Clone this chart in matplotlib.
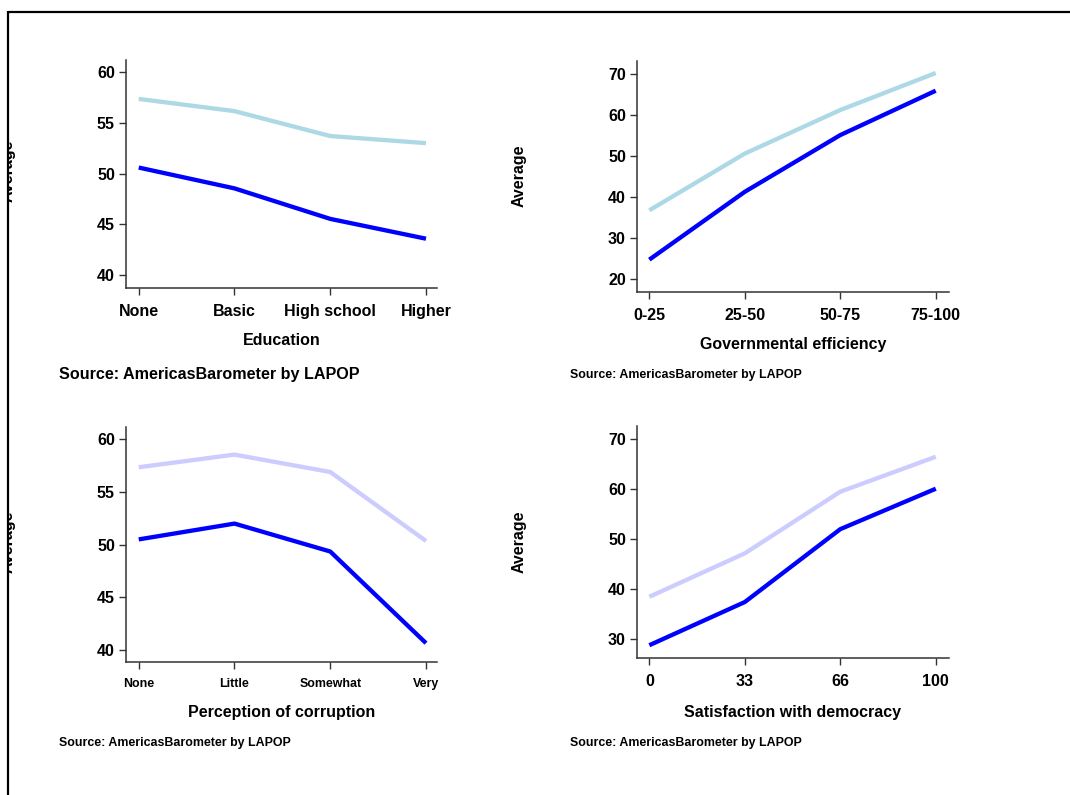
import matplotlib
matplotlib.use("Agg")
import matplotlib.pyplot as plt
from matplotlib.lines import Line2D
from matplotlib.transforms import Bbox

plt.rcParams['font.family'] = ['Liberation Sans', 'DejaVu Sans']
plt.rcParams['font.weight'] = 'bold'

# ---- data -------------------------------------------------------------
edu_labels = ["None", "Basic", "High school", "Higher"]
edu_upper = [57.35, 56.15, 53.7, 53.0]
edu_lower = [50.6, 48.55, 45.55, 43.6]

eff_labels = ["0-25", "25-50", "50-75", "75-100"]
eff_upper = [36.8, 50.6, 61.2, 70.2]
eff_lower = [24.8, 41.3, 55.1, 65.9]

corr_labels = ["None", "Little", "Somewhat", "Very"]
corr_upper = [57.35, 58.55, 56.9, 50.35]
corr_lower = [50.5, 52.0, 49.35, 40.65]

dem_labels = ["0", "33", "66", "100"]
dem_upper = [38.45, 47.15, 59.5, 66.5]
dem_lower = [28.75, 37.4, 52.0, 60.1]

edu_yticks = [40, 45, 50, 55, 60]
eff_yticks = [20, 30, 40, 50, 60, 70]
corr_yticks = [40, 45, 50, 55, 60]
dem_yticks = [30, 40, 50, 60, 70]

SOURCE = "Source: AmericasBarometer by LAPOP"

# ---- figure -----------------------------------------------------------
W, H = 1070, 795
DPI = 100
fig = plt.figure(figsize=(W / DPI, H / DPI), dpi=DPI)
fig.patch.set_facecolor("white")

SPINE = "#333333"
DARK = "#0000FF"
LIGHTBLUE = "#ADD8E6"
LAVENDER = "#CCCCFF"


def px_axes(left, top, right, bottom):
    return fig.add_axes([left / W, 1 - bottom / H, (right - left) / W, (bottom - top) / H])


def panel(box, labels, upper, lower, upper_color, yticks, ylim, xlim,
          xlabel, xtick_size, label_y, source_x, source_y, source_size,
          ylabel_x, ylabel_dy=0.0):
    left, top, right, bottom = box
    ax = px_axes(left, top, right, bottom)
    x = list(range(len(labels)))
    ax.plot(x, upper, color=upper_color, lw=3.1, solid_capstyle="butt", zorder=3)
    ax.plot(x, lower, color=DARK, lw=3.1, solid_capstyle="butt", zorder=4)
    ax.set_xlim(*xlim)
    ax.set_ylim(*ylim)
    ax.set_xticks(x)
    ax.set_xticklabels(labels, fontsize=xtick_size, fontweight="bold")
    ax.set_yticks(yticks)
    ax.set_yticklabels([str(v) for v in yticks], fontsize=11.5, fontweight="bold")
    for s in ("top", "right"):
        ax.spines[s].set_visible(False)
    for s in ("left", "bottom"):
        ax.spines[s].set_color(SPINE)
        ax.spines[s].set_linewidth(1.1)
    ax.tick_params(axis="both", direction="out", length=5, width=1.0,
                   color=SPINE, labelcolor="black")
    ax.tick_params(axis="x", pad=6.5)
    ax.tick_params(axis="y", pad=3)
    ax.set_facecolor("none")

    # x-axis title, centred under the plot area
    fig.text((left + right) / 2 / W, 1 - label_y / H, xlabel, ha="center",
             va="center", fontsize=11.5, fontweight="bold")
    # source note
    fig.text(source_x / W, 1 - source_y / H, SOURCE, ha="left", va="center",
             fontsize=source_size, fontweight="bold")
    # y-axis title
    yc = (top + bottom) / 2 + ylabel_dy
    t = fig.text(ylabel_x / W, 1 - yc / H, "Average", rotation=90,
                 ha="center", va="center", fontsize=11.5, fontweight="bold")
    return ax, t


ax1, t1 = panel((126, 60, 437, 287.7), edu_labels, edu_upper, edu_lower, LIGHTBLUE,
                edu_yticks, (38.78, 61.18), (-0.133, 3.115), "Education", 11.5,
                340.7, 59, 375, 11.6, ylabel_x=8.5, ylabel_dy=-3)
ax2, t2 = panel((637, 60.7, 948.5, 291.7), eff_labels, eff_upper, eff_lower, LIGHTBLUE,
                eff_yticks, (17.0, 73.2), (-0.129, 3.134), "Governmental efficiency", 11.5,
                344.3, 569.5, 375, 8.9, ylabel_x=519)
ax3, t3 = panel((126, 426.7, 437, 662.3), corr_labels, corr_upper, corr_lower, LAVENDER,
                corr_yticks, (38.83, 61.2), (-0.133, 3.115), "Perception of corruption", 8.9,
                712.3, 58.7, 742.7, 8.9, ylabel_x=8.5, ylabel_dy=-3)
ax4, t4 = panel((637, 426, 948.5, 658.3), dem_labels, dem_upper, dem_lower, LAVENDER,
                dem_yticks, (26.13, 72.66), (-0.129, 3.133), "Satisfaction with democracy", 11.5,
                712.3, 570, 742.7, 8.9, ylabel_x=519)

# the left-hand titles are cut off at the outer frame
clip = Bbox.from_extents(9, 0, W, H)
for t in (t1, t3):
    t.set_clip_box(clip)
    t.set_clip_on(True)

# outer frame (top and left edges)
fig.add_artist(Line2D([8 / W, 1.0], [1 - 12 / H, 1 - 12 / H], transform=fig.transFigure,
                      color="black", lw=1.6, solid_capstyle="butt"))
fig.add_artist(Line2D([8 / W, 8 / W], [0.0, 1 - 11.2 / H], transform=fig.transFigure,
                      color="black", lw=1.6, solid_capstyle="butt"))

fig.savefig("out.png", dpi=DPI, facecolor="white")
